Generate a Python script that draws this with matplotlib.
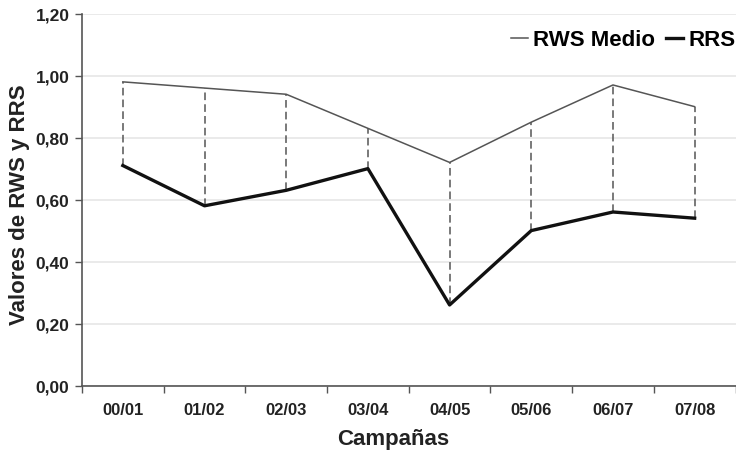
import matplotlib
matplotlib.use("Agg")
import matplotlib.pyplot as plt
from matplotlib.ticker import FixedLocator, FuncFormatter

campanas = ["00/01", "01/02", "02/03", "03/04", "04/05", "05/06", "06/07", "07/08"]
rws_medio = [0.98, 0.96, 0.94, 0.83, 0.72, 0.85, 0.97, 0.90]
rrs = [0.71, 0.58, 0.63, 0.70, 0.26, 0.50, 0.56, 0.54]
yticks = [0.0, 0.2, 0.4, 0.6, 0.8, 1.0, 1.2]

plt.rcParams['font.family'] = ['Liberation Sans', 'DejaVu Sans']

fig = plt.figure(figsize=(7.36, 4.56), dpi=100)
ax = fig.add_axes([82/736, 1-386.5/456, 653.5/736, (386.5-14.7)/456])

x = list(range(len(campanas)))
for xi, a, b in zip(x, rws_medio, rrs):
    ax.plot([xi, xi], [b, a], color="#555555", lw=1.1, ls=(0, (5, 2.7)), zorder=2)
ax.plot(x, rws_medio, color="#555555", lw=1.1, label="RWS Medio", zorder=3)
ax.plot(x, rrs, color="#111111", lw=2.4, label="RRS", zorder=3)

ax.set_xlim(-0.5, len(campanas) - 0.5)
ax.set_ylim(0, 1.2)
ax.set_yticks(yticks)
ax.yaxis.set_major_formatter(FuncFormatter(lambda v, p: f"{v:.2f}".replace(".", ",")))
ax.set_xticks(x)
ax.set_xticklabels(campanas)
ax.xaxis.set_minor_locator(FixedLocator([i - 0.5 for i in range(len(campanas) + 1)]))
ax.tick_params(axis="x", which="major", length=0, pad=12)
ax.tick_params(axis="x", which="minor", length=5, width=1, color="#555555", direction="out")
ax.tick_params(axis="y", length=5, width=1, color="#555555", direction="out", pad=4)
for lab in ax.get_xticklabels():
    lab.set_fontweight("bold")
    lab.set_fontsize(12)
    lab.set_color("#222222")
for lab in ax.get_yticklabels():
    lab.set_fontweight("bold")
    lab.set_fontsize(12.5)
    lab.set_color("#222222")

ax.grid(axis="y", color="#e6e6e6", lw=1.2, zorder=0)
ax.set_axisbelow(True)
for s in ["top", "right"]:
    ax.spines[s].set_visible(False)
ax.spines["left"].set_color("#555555")
ax.spines["bottom"].set_color("#555555")
ax.spines["left"].set_linewidth(1.2)
ax.spines["bottom"].set_linewidth(1.2)

ax.set_xlabel("Campañas", fontsize=16, fontweight="bold", color="#222222")
ax.set_ylabel("Valores de RWS y RRS", fontsize=16, fontweight="bold", color="#222222")
ax.xaxis.set_label_coords((393 - 82) / 653.5, -(440 - 386.5) / 371.8)
ax.yaxis.set_label_coords(-(82 - 20) / 653.5, (386.5 - 205) / 371.8)
ax.xaxis.label.set_va("center")
ax.yaxis.label.set_va("center")

leg = ax.legend(loc="upper right", bbox_to_anchor=(1.014, 0.982), ncol=2, frameon=False,
                prop={"weight": "bold", "size": 16}, handlelength=0.75, handletextpad=0.25,
                columnspacing=0.5, borderaxespad=0)

fig.savefig("out.png", dpi=100)
